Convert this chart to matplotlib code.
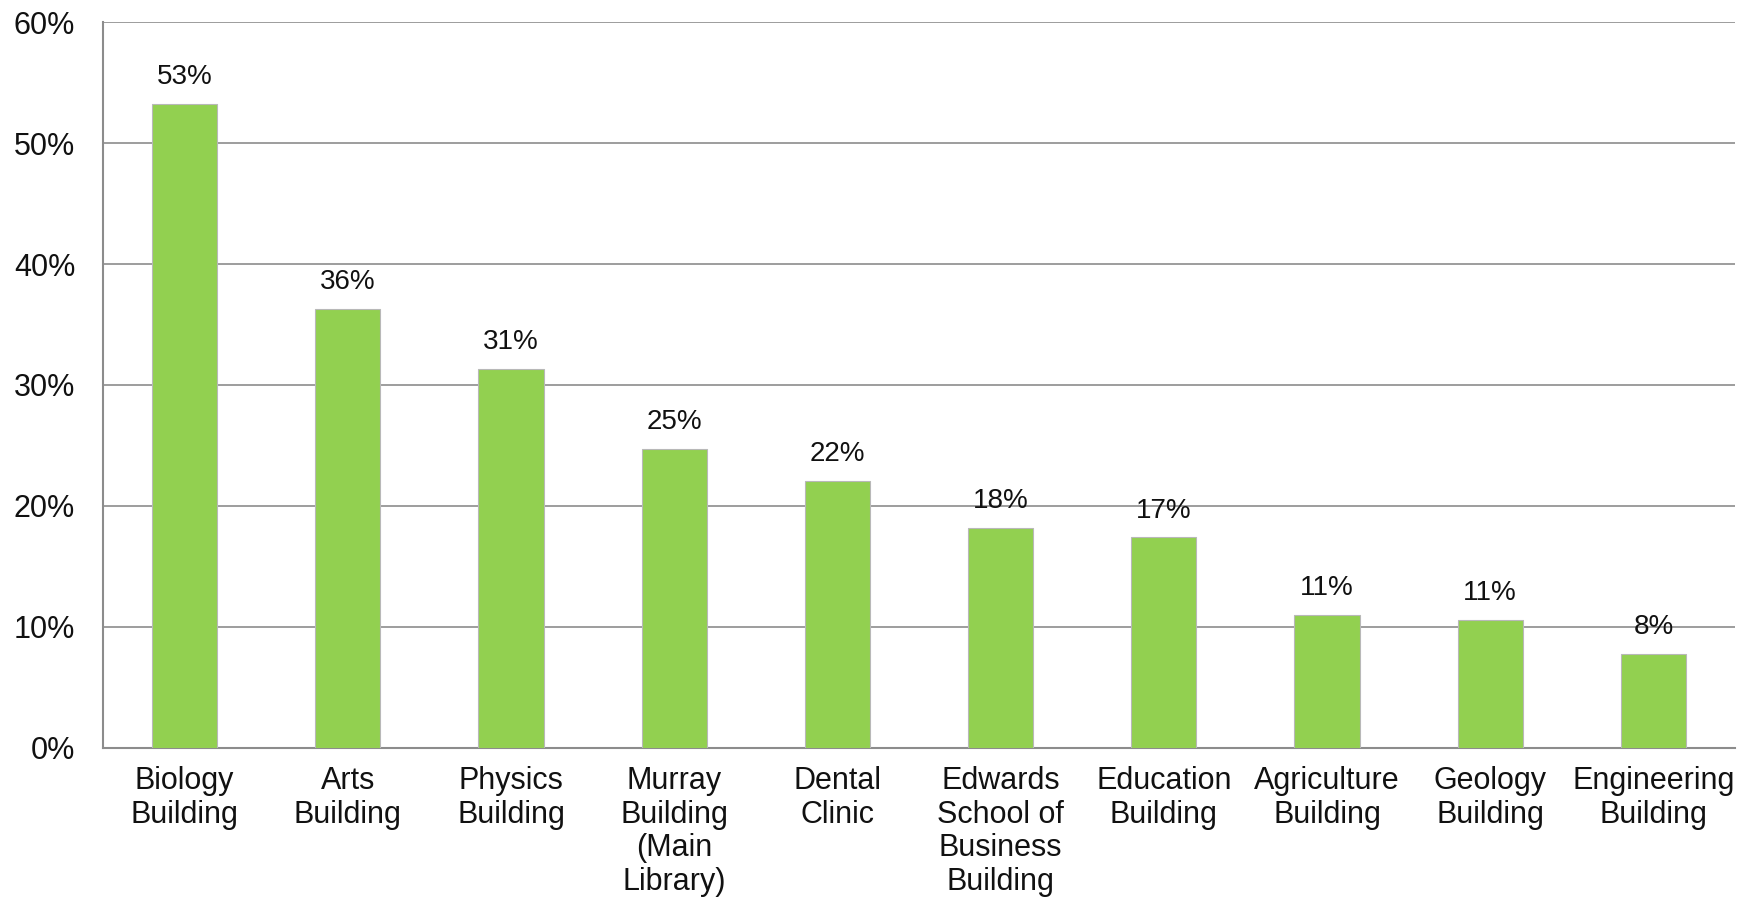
import matplotlib
matplotlib.use("Agg")
import matplotlib.pyplot as plt
from matplotlib.ticker import FuncFormatter, MultipleLocator

categories = ["Biology\nBuilding", "Arts\nBuilding", "Physics\nBuilding",
              "Murray\nBuilding\n(Main\nLibrary)", "Dental\nClinic",
              "Edwards\nSchool of\nBusiness\nBuilding", "Education\nBuilding",
              "Agriculture\nBuilding", "Geology\nBuilding", "Engineering\nBuilding"]
values = [53.2, 36.3, 31.3, 24.7, 22.1, 18.2, 17.4, 11.0, 10.6, 7.8]
value_labels = ["53%", "36%", "31%", "25%", "22%", "18%", "17%", "11%", "11%", "8%"]

plt.rcParams['font.family'] = ['Liberation Sans', 'DejaVu Sans']

fig = plt.figure(figsize=(17.46, 8.99), dpi=100)
ax = fig.add_axes([0.059, 0.168, 0.9347, 0.8075])

x = list(range(len(categories)))
bars = ax.bar(x, values, width=0.4, color="#92D050", edgecolor="#B8B8B8", linewidth=0.8, zorder=3)
for b, lab in zip(bars, value_labels):
    ax.annotate(lab, (b.get_x() + b.get_width() / 2, b.get_height()),
                xytext=(0, 10), textcoords="offset points",
                ha="center", va="bottom", fontsize=20, color="#111111", zorder=4)

ax.set_xlim(-0.5, len(categories) - 0.5)
ax.set_ylim(0, 60)
ax.yaxis.set_major_locator(MultipleLocator(10))
ax.yaxis.set_major_formatter(FuncFormatter(lambda v, p: f"{int(v)}%"))
ax.grid(axis="y", color="#8C8C8C", linewidth=1.2, zorder=0)
ax.set_xticks(x)
ax.set_xticklabels(categories, fontsize=22, linespacing=1.16, va="top", color="#111111")
ax.tick_params(axis="x", length=0, pad=13)
ax.tick_params(axis="y", length=0, pad=20, labelsize=22, labelcolor="#111111")

for s in ["top", "right"]:
    ax.spines[s].set_visible(False)
for s in ["left", "bottom"]:
    ax.spines[s].set_color("#8C8C8C")
    ax.spines[s].set_linewidth(1.5)

fig.savefig("out.png", dpi=100)
